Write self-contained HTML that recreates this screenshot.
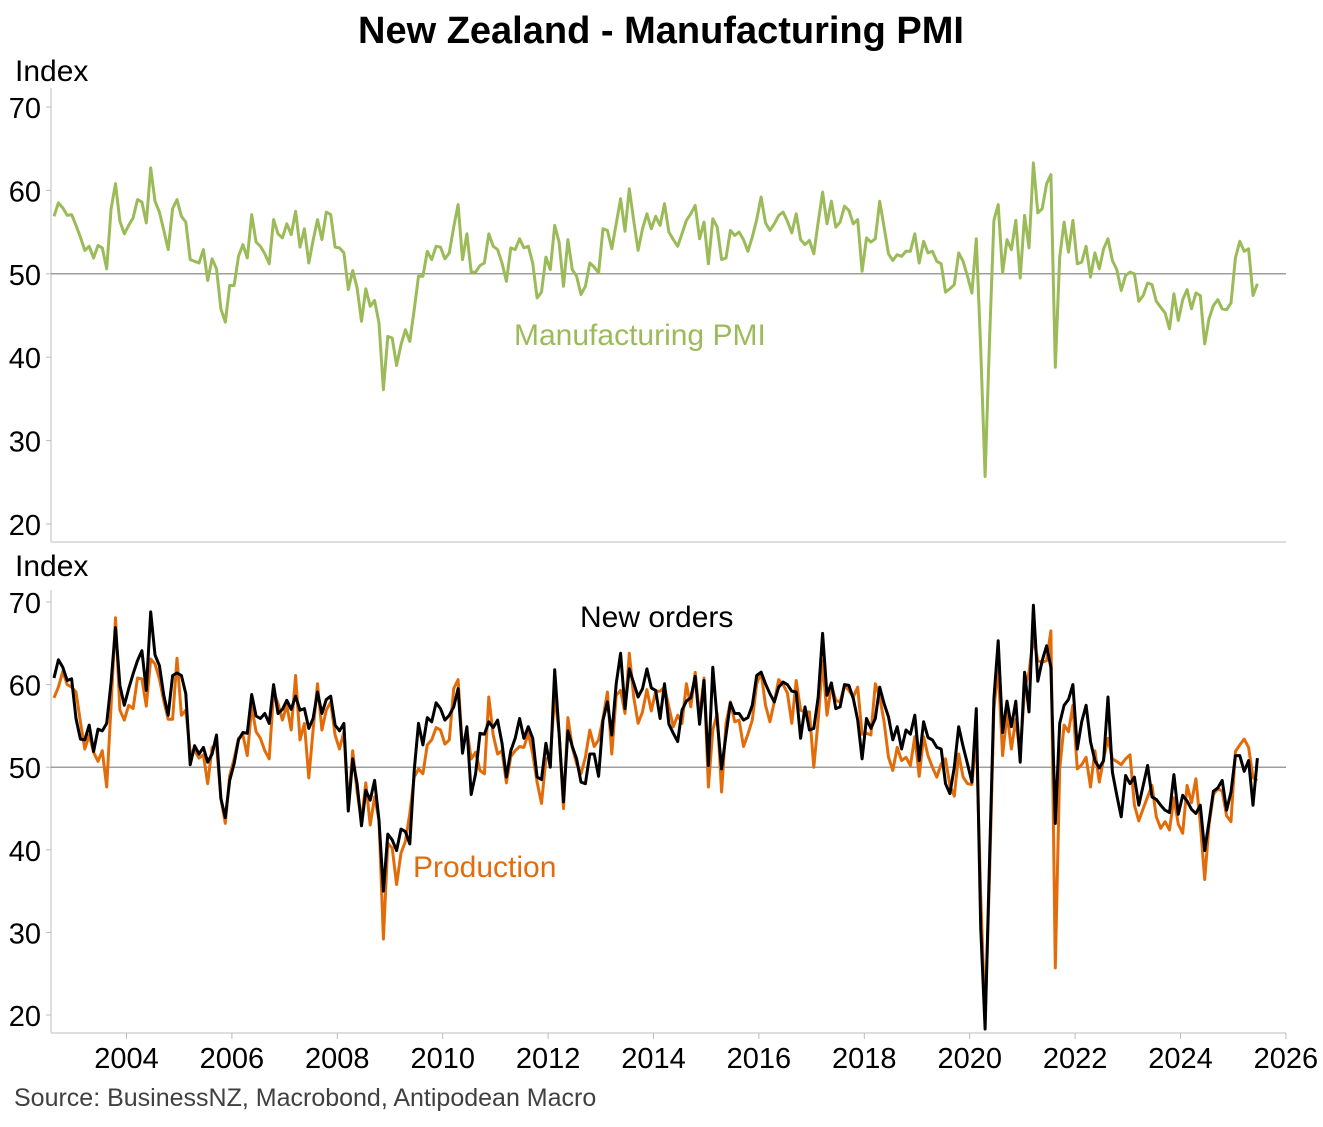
<!DOCTYPE html>
<html>
<head>
<meta charset="utf-8">
<style>
  html, body { margin: 0; padding: 0; background: #ffffff; }
  body { width: 1323px; height: 1122px; overflow: hidden; font-family: "Liberation Sans", Arial, sans-serif; }
  svg text { font-family: "Liberation Sans", Arial, sans-serif; }
</style>
</head>
<body>
<svg id="chart" width="1323" height="1122" viewBox="0 0 1323 1122" xmlns="http://www.w3.org/2000/svg">
  <text x="661" y="43" text-anchor="middle" font-size="38" font-weight="bold" fill="#000">New Zealand - Manufacturing PMI</text>
  <text x="15" y="81" font-size="30" fill="#000">Index</text>
  <text x="15" y="576" font-size="30" fill="#000">Index</text>
  <g id="top-panel"></g>
  <g id="bottom-panel"></g>
  <text x="514" y="345" font-size="30" fill="#9BBB59">Manufacturing PMI</text>
  <text x="580" y="627" font-size="30" fill="#000">New orders</text>
  <text x="413" y="877" font-size="30" fill="#E36C0A">Production</text>
  <text x="14" y="1106" font-size="25" fill="#404040">Source: BusinessNZ, Macrobond, Antipodean Macro</text>
</svg>
<script>
// Series start August 2002, monthly
const startYear = 2002;
const startMonth = 7; // 0-based: August
const yTicks = [20, 30, 40, 50, 60, 70];
const xTickYears = [2004, 2006, 2008, 2010, 2012, 2014, 2016, 2018, 2020, 2022, 2024, 2026];

const pmi = [
56.9,58.5,57.9,57.0,57.1,55.8,54.4,52.8,53.3,51.9,53.4,53.1,50.6,
57.8,60.8,56.3,54.8,55.8,56.7,58.9,58.6,56.1,62.7,58.7,57.4,55.2,
52.9,57.8,58.9,56.9,56.2,51.7,51.5,51.3,52.9,49.2,51.8,50.6,45.8,
44.2,48.6,48.6,52.1,53.5,51.9,57.1,53.8,53.3,52.4,51.2,56.5,54.8,
54.3,56,54.7,57.5,53.2,55.4,51.3,54,56.5,54.1,57.4,57.1,53.2,
53.1,52.5,48.1,50.4,48.3,44.3,48.2,46.1,46.8,44.1,36.1,42.5,42.3,
39,41.5,43.3,41.9,45.7,49.7,49.7,52.7,51.7,53.3,53.2,51.8,52.5,
55.6,58.3,51.7,54.8,50.2,50.2,51,51.3,54.8,53.3,52.9,51.3,49.1,
53.1,52.9,54.2,53.1,53.3,51.3,47.1,47.8,52,50.5,55.8,53.8,48.5,
54.1,50.5,49.7,47.5,48.5,51.3,50.8,50.1,55.4,55.2,53,56,59,
55.1,60.2,56.4,52.8,55.4,57.2,55.4,56.9,55.8,58.4,55,54.1,53.3,
54.8,56.4,57.2,58.2,54.2,56.2,51.2,56.6,55.6,51.7,51.9,55.2,54.6,
55,54.1,52.7,54.4,56.5,59.2,56.1,55.2,56,57,57.4,56.3,54.9,
57.2,54.1,53.5,54,52.4,56.2,59.8,56,58.7,55.6,56.2,58.1,57.6,
56,56.5,50.3,54.3,53.8,54.2,58.7,55.6,52.4,51.6,52.3,52.1,52.7,
52.7,54.8,51.3,53.9,52.5,52.7,51.5,51.2,47.8,48.2,48.7,52.5,51.5,
49.7,47.7,54.2,41,25.7,42,56.4,58.3,50.1,54.1,52.9,56.4,49.5,
57,53.1,63.3,57.3,57.8,60.8,61.9,38.8,52,56.2,52.6,56.4,51.2,
51.4,53.3,49.6,52.5,50.6,53,54.2,51.6,50.5,48,49.8,50.2,50,
46.7,47.4,48.9,48.7,46.7,46,45.3,43.4,47.6,44.4,46.9,48.1,45.8,
47.7,47.4,41.6,44.6,46.2,46.9,45.8,45.7,46.5,51.9,53.9,52.7,53,47.4,48.8
];

const newOrders = [
60.8,63,62.1,60.5,60.7,55.9,53.4,53.3,55.1,51.9,54.6,54.4,55.3,
60.3,66.9,59.9,57.5,59.5,61.3,62.9,64.1,59.3,68.8,63.6,62.3,58.7,
56.3,61.1,61.4,61.1,58.9,50.3,52.6,51.6,52.4,50.6,51.6,53.9,46.2,
43.9,48.4,50.4,53.3,54.2,54.1,58.8,56.2,55.9,56.5,55.3,60,56.5,
57,58.1,57,58.6,56.9,57.1,54.7,55.9,59.1,56.5,58.2,58.6,55.1,
54.4,55.3,44.7,51,
48,42.9,47.2,46,48.4,43.6,35,41.9,41.2,39.9,42.5,42.2,40.7,
49.6,55.3,52.7,56,55.5,57.8,57.1,55.7,56.3,57.3,59.5,51.7,54.9,
46.7,49.2,54.1,54,55.5,54.8,55.7,52.9,48.8,52,53.5,55.9,53.5,
54.9,53.5,48.8,48.5,52.9,50,61.8,54.1,45.8,54.4,52.5,51,48.2,
48,51.6,51.6,48.9,55.7,57.9,53.9,60.1,63.8,57.1,61.9,60.2,58.5,59.5,61.9,59.6,
59.3,55.9,60.1,55.2,54.1,53.1,56.9,58,58.4,61,55.2,60.5,50.2,
62.1,55.7,49.8,53.9,57.8,56.5,56.5,55.7,56,57.5,61.1,61.5,60.1,
58.9,57.9,59.7,60.3,60,59.2,59.1,53.5,57.3,54.5,54.7,58.5,66.2,
58.7,60.2,57.1,57.3,60,59.9,58.3,55.7,51,55.9,54.7,55.9,59.7,
57.7,56.1,53.3,54.9,52.2,54.5,54,56.3,50.8,55.5,53.6,53.3,52.4,
52.2,48,46.8,50,54.9,52.5,50.4,48.2,
57.1,30.6,18.3,38.6,58.3,65.3,54.2,58,54.9,58,50.6,61.5,56.7,
69.6,60.4,62.9,64.7,62.1,43.2,55.3,57.5,58.2,60,52.2,55.5,57.5,
53.1,50.8,49.9,50.8,58.5,49.4,46.6,44,49,48,48.8,45.4,47.8,
50.2,46.4,46.1,45.4,44.8,44.5,49.1,44.3,46.6,45.9,44.9,44.4,45.4,
39.9,43.4,47.1,47.5,48.4,44.8,47,51.4,51.4,49.5,50.8,45.4,51.1
];

const production = [
58.4,59.7,61.6,60,59.7,59.1,55.5,52.2,53.9,51.8,50.7,52,47.6,
57.5,68.1,56.9,55.7,57.5,57.1,60.8,60.7,57.4,63.1,62.5,60.7,58,
55.8,55.8,63.2,56.3,56.9,51.8,52,51.1,51.5,48,52.4,52.7,46.2,
43.2,49,51,53.5,53.9,51.4,57.3,54.3,53.5,52,51,59.1,57.7,
55.7,57.5,54.5,61.1,53.3,55.3,48.7,54.5,60.1,54.5,56.9,57.9,53.9,
52.2,54.3,45,52,
47,43.5,48.1,43,46.4,43.6,29.2,40.8,40.2,35.8,39.6,41,44.4,
48.8,49.8,49.2,52.7,53.3,54.8,54.5,52.8,53.3,59.5,60.6,52.2,54.5,
51,51.8,49.6,49.2,58.5,53.9,51.6,52,48.1,51.3,52,52.5,52.4,
54.1,51.6,48.2,45.6,51,51.2,58.7,54.1,45,56,52.4,50.4,49.2,
51.2,54.5,52.5,53.3,55.9,59.1,51.6,58.7,59.3,56.5,63.8,58.5,55.3,56.7,59.4,56.8,
59.2,59.2,59.7,57.3,54.9,56.3,55.3,60.1,57.3,61.5,56.1,60.8,47.6,
54.5,56.5,47,55.3,57.9,55.5,55.7,52.5,54,55.7,60.1,61.5,57.5,
55.5,57.9,60.6,60,59,55.3,60.5,56.9,56.7,56.7,50,55.7,62.9,
56.3,59.9,58.1,57.9,59.9,59.3,58.5,59.7,54,54.1,53.9,60.1,58.5,
55.5,51.2,49.6,52.4,50.8,51.2,50.2,53.7,48.9,53.7,51.4,50,48.8,
50.4,51,47.8,46.5,51.6,48.8,48,47.9,
53.9,34.6,19.3,36.6,57.1,61.9,51.4,56.5,52.2,55.8,51.4,59.5,61.5,
65.7,62.9,62.7,62.9,66.5,25.7,49.8,55.1,54.3,57.5,49.8,50.3,51.2,
47.6,52,48.2,51,53.5,51,50.7,50.3,51,51.5,45.4,43.5,45,
46.4,47.8,44,42.6,43.4,42.4,46.3,43.1,42,47.8,45.7,48.6,43.2,
36.4,43,46.7,47.4,47.1,44.1,43.4,51.9,52.7,53.4,52.4,48.7,48.4
];

const NS = "http://www.w3.org/2000/svg";
const X_LEFT = 51, X_RIGHT = 1286;
function xOfYear(yr) { return 126.5 + (yr - 2004) * 52.7; }
function xOfIndex(i) { return xOfYear(startYear + (startMonth + i + 0.5) / 12); }
function makeY(y70, y20) { return v => y20 + (v - 20) * (y70 - y20) / 50; }
const yTop = makeY(107, 524);
const yBot = makeY(602, 1015);

function el(tag, attrs, parent) {
  const e = document.createElementNS(NS, tag);
  for (const k in attrs) e.setAttribute(k, attrs[k]);
  parent.appendChild(e);
  return e;
}

function drawAxes(g, yFn, yAxisTop, yAxisBottom, withXTicks) {
  const ax = el('line', {x1: X_LEFT, x2: X_LEFT, y1: yAxisTop, y2: yAxisBottom, stroke: '#d4d4d4', 'stroke-width': 1.5}, g);
  
  
  const bx = el('line', {x1: X_LEFT, x2: X_RIGHT, y1: yAxisBottom, y2: yAxisBottom, stroke: '#d4d4d4', 'stroke-width': 1.5}, g);
  
  
  yTicks.forEach(v => {
    const y = yFn(v);
    const t = el('line', {x1: X_LEFT - 5, x2: X_LEFT, y1: y, y2: y, stroke: '#bbbbbb', 'stroke-width': 1}, g);
    
    
    const lab = el('text', {x: 41, y: y + 11, 'text-anchor': 'end', 'font-size': 29, fill: '#000'}, g);
    lab.textContent = v;
    
    
  });
  const ref = el('line', {x1: X_LEFT, x2: X_RIGHT, y1: yFn(50), y2: yFn(50), stroke: '#7f7f7f', 'stroke-width': 1.2}, g);
  
  
  if (withXTicks) {
    xTickYears.forEach(yr => {
      const x = xOfYear(yr);
      const t = el('line', {x1: x, x2: x, y1: yAxisBottom, y2: yAxisBottom + 6, stroke: '#bbbbbb', 'stroke-width': 1}, g);
      
      
      const lab = el('text', {x: x, y: yAxisBottom + 35, 'text-anchor': 'middle', 'font-size': 29, fill: '#000'}, g);
      lab.textContent = yr;
      
      
    });
  }
}

function drawSeries(g, values, yFn, color, name) {
  const d = values.map((v, i) => (i ? 'L' : 'M') + xOfIndex(i).toFixed(1) + ' ' + yFn(v).toFixed(1)).join(' ');
  const p = el('path', {d: d, fill: 'none', stroke: color, 'stroke-width': 3, 'stroke-linejoin': 'round'}, g);
  
  
}

const topG = document.getElementById('top-panel');
const botG = document.getElementById('bottom-panel');
drawAxes(topG, yTop, 88, 542, false);
drawAxes(botG, yBot, 590, 1033, true);
drawSeries(topG, pmi, yTop, '#9BBB59', 'manufacturing-pmi-line');
drawSeries(botG, production, yBot, '#E36C0A', 'production-line');
drawSeries(botG, newOrders, yBot, '#000000', 'new-orders-line');
</script>
</body>
</html>
